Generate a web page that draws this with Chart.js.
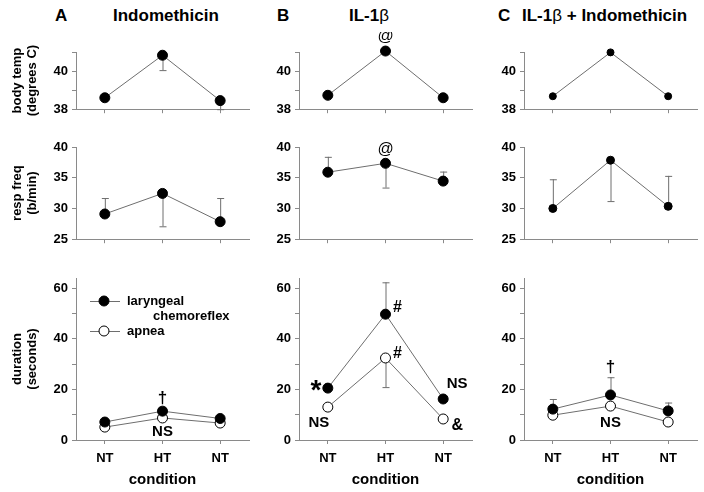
<!DOCTYPE html>
<html>
<head>
<meta charset="utf-8">
<script src="https://cdn.jsdelivr.net/npm/chart.js@4.4.1/dist/chart.umd.min.js"></script>
<style>
  body { margin: 0; width: 704px; height: 492px; overflow: hidden; background: #fff; position: relative;
         font-family: "Liberation Sans", Arial, sans-serif; }
  canvas { position: absolute; }
  .hdr { position: absolute; top: 6px; font-weight: bold; font-size: 17px; line-height: 20px; white-space: nowrap; color: #000; }
  .hdr .g { font-weight: normal; }
</style>
</head>
<body>
<div class="hdr" style="left:55px">A</div>
<div class="hdr" style="left:113px">Indomethicin</div>
<div class="hdr" style="left:277px">B</div>
<div class="hdr" style="left:349px">IL-1<span class="g">β</span></div>
<div class="hdr" style="left:498px">C</div>
<div class="hdr" style="left:522px">IL-1<span class="g">β</span> + Indomethicin</div>
<script>
const conditions = ["NT", "HT", "NT"];

// body temp (degrees C)
const tempIndo = [38.6, 40.83, 38.45];
const tempIndoErr = [null, 40.05, 38.0];
const tempIL = [38.73, 41.05, 38.6];
const tempILIndo = [38.68, 40.98, 38.68];
const tempLabels = [38, 40];

// resp freq (b/min)
const respIndo = [29.1, 32.45, 27.85];
const respIndoErr = [31.7, 27.1, 31.7];
const respIL = [35.9, 37.35, 34.45];
const respILErr = [38.4, 33.4, 36.0];
const respILIndo = [30.0, 37.85, 30.35];
const respILIndoErr = [34.75, 31.2, 35.3];
const respLabels = [25, 30, 35, 40];

// duration (seconds): laryngeal chemoreflex and apnea
const lcIndo = [7.1, 11.4, 8.5];
const apneaIndo = [5.1, 8.7, 6.7];
const lcIL = [20.5, 49.7, 16.2];
const lcILErr = [22.2, 62.3, 17.6];
const apneaIL = [13.0, 32.4, 8.3];
const apneaILErr = [null, 20.9, null];
const lcILIndo = [12.2, 17.8, 11.5];
const lcILIndoErr = [16.2, 24.8, 14.8];
const apneaILIndo = [9.8, 13.4, 7.1];
const durLabels = [0, 20, 40, 60];

const legendLabels = [["laryngeal", "chemoreflex"], ["apnea"]];

const FONT = '"Liberation Sans", Arial, sans-serif';
const axisGray = "#8a8a8a";
const lineGray = "#6e6e6e";

// plot geometry
const colX = [76, 299, 524];
const plotW = 173;
const padTop = 20;
const padRight = 10;
const rows = [
  { top: 52, h: 63, xH: 6 },
  { top: 147, h: 98, xH: 6 },
  { top: 278, h: 162, xH: 50 },
];

// vertical error bars, drawn under the points
const errorBars = {
  id: "errorBars",
  beforeDatasetsDraw(chart) {
    const { ctx } = chart;
    const y = chart.scales.y;
    chart.data.datasets.forEach((ds, di) => {
      if (!ds.errEnd) return;
      const meta = chart.getDatasetMeta(di);
      ds.errEnd.forEach((v, i) => {
        if (v == null) return;
        const p = meta.data[i];
        const ey = y.getPixelForValue(v);
        ctx.save();
        ctx.strokeStyle = lineGray;
        ctx.lineWidth = 1;
        ctx.beginPath();
        ctx.moveTo(p.x + 0.5, p.y);
        ctx.lineTo(p.x + 0.5, ey);
        ctx.moveTo(p.x - 3, ey + 0.5);
        ctx.lineTo(p.x + 4, ey + 0.5);
        ctx.stroke();
        ctx.restore();
      });
    });
  },
};

// significance marks next to points
const marks = {
  id: "marks",
  afterDatasetsDraw(chart, args, opts) {
    if (!opts.items) return;
    const { ctx } = chart;
    opts.items.forEach((m) => {
      const p = chart.getDatasetMeta(m.ds).data[m.i];
      ctx.save();
      ctx.font = (m.font || "bold 15px") + " " + FONT;
      ctx.fillStyle = "#000";
      ctx.textAlign = "center";
      ctx.textBaseline = "middle";
      ctx.fillText(m.text, p.x + (m.dx || 0), p.y + (m.dy || 0));
      ctx.restore();
    });
  },
};

// legend box inside panel A duration
const durLegend = {
  id: "durLegend",
  afterDatasetsDraw(chart, args, opts) {
    if (!opts.show) return;
    const { ctx, chartArea: a } = chart;
    const x0 = a.left + 28;
    const ys = [a.top + 23, a.top + 53];
    const fills = ["#000", "#fff"];
    ctx.save();
    ys.forEach((yy, k) => {
      ctx.strokeStyle = lineGray;
      ctx.lineWidth = 1;
      ctx.beginPath();
      ctx.moveTo(x0 - 14, yy + 0.5);
      ctx.lineTo(x0 + 16, yy + 0.5);
      ctx.stroke();
      ctx.beginPath();
      ctx.arc(x0, yy, 5, 0, Math.PI * 2);
      ctx.fillStyle = fills[k];
      ctx.fill();
      ctx.strokeStyle = "#000";
      ctx.stroke();
      ctx.fillStyle = "#000";
      ctx.font = "bold 13px " + FONT;
      ctx.textBaseline = "middle";
      ctx.textAlign = "left";
      legendLabels[k].forEach((t, j) => {
        ctx.fillText(t, x0 + 23 + j * 26, yy + j * 15);
      });
    });
    ctx.restore();
  },
};

function series(data, err, opts) {
  return Object.assign({
    data,
    errEnd: err,
    borderColor: lineGray,
    borderWidth: 1,
    pointRadius: 5,
    pointBackgroundColor: "#000",
    pointBorderColor: "#000",
    pointBorderWidth: 1,
    clip: false,
  }, opts || {});
}

function panel(col, row, datasets, yCfg, extra) {
  extra = extra || {};
  const r = rows[row];
  const yW = col === 0 ? 76 : 44;
  const c = document.createElement("canvas");
  c.width = yW + plotW + padRight;
  c.height = padTop + r.h + r.xH;
  c.style.left = colX[col] - yW + "px";
  c.style.top = r.top - padTop + "px";
  document.body.appendChild(c);

  new Chart(c, {
    type: "line",
    data: { labels: conditions, datasets },
    options: {
      responsive: false,
      animation: false,
      layout: { padding: { top: padTop, right: padRight, left: 0, bottom: 0 } },
      plugins: {
        legend: { display: false },
        tooltip: { enabled: false },
        marks: { items: extra.marks },
        durLegend: { show: !!extra.legend },
      },
      scales: {
        x: {
          offset: true,
          grid: { drawOnChartArea: false, offset: false, color: axisGray, tickLength: 4 },
          border: { color: axisGray },
          ticks: { display: row === 2, color: "#000", padding: 7, font: { family: FONT, size: 13, weight: "bold" } },
          title: {
            display: row === 2,
            text: "condition",
            color: "#000",
            font: { family: FONT, size: 15, weight: "bold" },
            padding: { top: 0, bottom: 1 },
          },
          afterFit: (s) => { s.height = r.xH; },
        },
        y: {
          min: yCfg.min,
          max: yCfg.max,
          grid: { drawOnChartArea: false, color: axisGray, tickLength: 4 },
          border: { color: axisGray },
          ticks: {
            stepSize: yCfg.step,
            includeBounds: false,
            autoSkip: false,
            color: "#000",
            padding: 4,
            font: { family: FONT, size: 13, weight: "bold" },
            callback: (v) => (yCfg.labels.includes(v) ? v : ""),
          },
          title: {
            display: !!yCfg.title,
            text: yCfg.title || "",
            color: "#000",
            font: { family: FONT, size: 13, weight: "bold", lineHeight: 1.15 },
            padding: { top: 10, bottom: 0 },
          },
          afterFit: (s) => { s.width = yW; },
        },
      },
    },
    plugins: [errorBars, marks, durLegend],
  });
}

const tempY = { min: 38, max: 41, step: 1, labels: tempLabels };
const respY = { min: 25, max: 40, step: 5, labels: respLabels };
const durY = { min: 0, max: 64, step: 10, labels: durLabels };

// row 1: body temp
panel(0, 0, [series(tempIndo, tempIndoErr)], Object.assign({ title: ["body temp", "(degrees C)"] }, tempY));
panel(1, 0, [series(tempIL, null)], tempY, { marks: [{ ds: 0, i: 1, text: "@", dy: -14, font: "16px" }] });
panel(2, 0, [series(tempILIndo, null, { pointRadius: 3.5 })], tempY);

// row 2: resp freq
panel(0, 1, [series(respIndo, respIndoErr)], Object.assign({ title: ["resp freq", "(b/min)"] }, respY));
panel(1, 1, [series(respIL, respILErr)], respY, { marks: [{ ds: 0, i: 1, text: "@", dy: -14, font: "16px" }] });
panel(2, 1, [series(respILIndo, respILIndoErr, { pointRadius: 4 })], respY);

// row 3: duration
const openPt = { pointBackgroundColor: "#fff" };
panel(0, 2, [series(lcIndo, null), series(apneaIndo, null, openPt)],
  Object.assign({ title: ["duration", "(seconds)"] }, durY),
  {
    legend: true,
    marks: [
      { ds: 0, i: 1, text: "†", dy: -13, font: "bold 17px" },
      { ds: 1, i: 1, text: "NS", dy: 14 },
    ],
  });
panel(1, 2, [series(lcIL, lcILErr), series(apneaIL, apneaILErr, openPt)], durY, {
  marks: [
    { ds: 0, i: 0, text: "*", dx: -12, dy: 3, font: "bold 28px" },
    { ds: 1, i: 0, text: "NS", dx: -9, dy: 16 },
    { ds: 0, i: 1, text: "#", dx: 12, dy: -7, font: "bold 16px" },
    { ds: 1, i: 1, text: "#", dx: 12, dy: -4, font: "bold 16px" },
    { ds: 0, i: 2, text: "NS", dx: 14, dy: -15 },
    { ds: 1, i: 2, text: "&", dx: 14, dy: 7, font: "bold 16px" },
  ],
});
panel(2, 2, [series(lcILIndo, lcILIndoErr), series(apneaILIndo, null, openPt)], durY, {
  marks: [
    { ds: 0, i: 1, text: "†", dy: -28, font: "bold 17px" },
    { ds: 1, i: 1, text: "NS", dy: 17 },
  ],
});
</script>
</body>
</html>
